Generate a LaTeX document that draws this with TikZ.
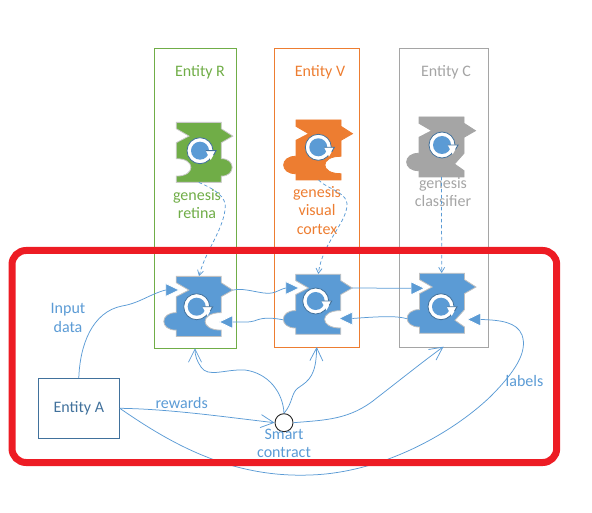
\documentclass[tikz,border=0pt]{standalone}
\usepackage{fontspec}
\setmainfont{Carlito}
\usetikzlibrary{positioning,arrows.meta}
\definecolor{mblue}{HTML}{5B9BD5}
\definecolor{mdark}{HTML}{41719C}
\definecolor{mgreen}{HTML}{70AD47}
\definecolor{morange}{HTML}{ED7D31}
\definecolor{mgray}{HTML}{A5A5A5}
\definecolor{mred}{HTML}{ED1C24}
\newcommand{\rbump}{.. controls (37,6) and (37,24) .. (22.5,23.7)}
\newcommand{\rbite}{.. controls (1,6) and (1,24) .. (22.5,23.7)}
\newcommand{\rchev}{-- (13,17) -- (22.5,23.7)}
\newcommand{\lbump}{.. controls (-39,24) and (-39,6) .. (-22.5,6.3)}
\newcommand{\lbite}{.. controls (-3,24) and (-3,6) .. (-22.5,6.3)}
\tikzset{
  x=1pt,y=-1pt,
  flow/.style={draw=mblue,line width=0.75pt},
  pull/.style={flow,-{Straight Barb[length=13pt,width=13pt]}},
  dash line/.style={flow,dash pattern=on 3.5pt off 2.5pt,-{Straight Barb[length=5pt,width=6pt]}},
  entbox/.style={draw=#1,line width=1pt,fill=none},
  lab/.style={text=#1,font=\fontsize{16}{18.5}\selectfont,align=center,inner sep=0pt},
  pics/module/.style n args={4}{code={
    \draw[fill=#1,draw=#2,line width=0.8pt] (-22.5,-30) -- (22.5,-30) -- (22.5,-23.7)
      -- (34,-16.3) -- (22.5,-9.7) -- (22.5,6.3) #3 -- (22.5,30) -- (-22.5,30)
      -- (-22.5,23.7) #4 -- (-22.5,-9.7) -- (-9.8,-16.3) -- (-22.5,-23.7) -- cycle;
    \coordinate (-top) at (0,-30);
    \coordinate (-bot) at (0,30);
    \coordinate (-tip) at (34,-16.3);
    \coordinate (-side) at (-35,15.5);
  }},
  pics/ringmark/.style={code={
    \draw[fill=white,draw=mdark,line width=0.8pt] (0,0) circle[radius=13];
    \fill[mblue] (0,0) circle[radius=9];
    \fill[white] (5.7,0) -- (16,0) -- (10.7,9.3) -- cycle;
    \draw[mdark,line width=0.9pt] (5.7,0) -- (16,0) -- (13.5,4.5);
  }},
  pics/port/.style={code={
    \draw[fill=mblue,draw=white,line width=0.8pt] (0,-6.5) -- (13.5,0) -- (0,6.5) -- cycle;
  }}
}
\begin{document}
\begin{tikzpicture}
  \useasboundingbox (0,0) rectangle (592,513);

  % entity columns
  \draw[entbox=mgreen] (154,48.3) rectangle (236.7,348.3);
  \draw[entbox=morange] (274.3,48.3) rectangle (359.7,347.3);
  \draw[entbox=mgray] (399.3,48.3) rectangle (488.7,347.3);
  \node[lab=mgreen] (nameR) at (200,72) {Entity R};
  \node[lab=morange] (nameV) at (320,72) {Entity V};
  \node[lab=mgray] (nameC) at (446,72) {Entity C};

  % genesis modules
  \pic (genR) at (198.8,152.4) {module={mgreen}{mgray!60}{\rbump}{\lbite}};
  \pic at (200,150.7) {ringmark};
  \pic (genV) at (318.5,150) {module={morange}{morange}{\rbite}{\lbump}};
  \pic at (318.3,147.3) {ringmark};
  \pic (genC) at (441.5,147) {module={mgray}{mgray}{\rchev}{\lbump}};
  \pic at (442,145) {ringmark};
  \node[lab=mgreen] (txtR) at (197,204) {genesis\\retina};
  \node[lab=morange] (txtV) at (317,210.5) {genesis\\visual\\cortex};
  \node[lab=mgray] (txtC) at (443,192) {genesis\\classifier};

  % worker modules
  \pic (modR) at (198.7,306.4) {module={mblue}{mgray!70}{\rbite}{\lbump}};
  \pic at (196.7,306.7) {ringmark};
  \pic (modV) at (318.2,304.3) {module={mblue}{mgray!70}{\rbite}{\lbump}};
  \pic at (315.7,301) {ringmark};
  \pic (modC) at (442,303.3) {module={mblue}{mgray!70}{\rchev}{\lbump}};
  \pic at (441,306.7) {ringmark};

  \coordinate (inR) at (165.7,290);
  \coordinate (inV) at (285.7,288);
  \coordinate (inC) at (411,288.3);
  \coordinate (backR) at (232.7,322);
  \coordinate (backV) at (352.3,318.5);
  \coordinate (backC) at (480.7,319.5);
  \coordinate (underR) at (195,348.3);
  \coordinate (underV) at (316.7,347);
  \coordinate (underC) at (443.5,346.7);
  \pic at (inR) {port};
  \pic at (inV) {port};
  \pic at (inC) {port};
  \pic[rotate=180] at (backR) {port};
  \pic[rotate=180] at (backV) {port};
  \pic[rotate=180] at (backC) {port};

  \node[draw=mdark,line width=1pt,minimum width=81pt,minimum height=60pt,inner sep=0pt,
    text=mdark,font=\fontsize{16}{18}\selectfont] (entA) at (78.8,408.3) {Entity A};
  \node[circle,draw=black!85,fill=white,line width=0.9pt,minimum size=18pt,inner sep=0pt] (smart) at (284,422.7) {};

  % connectors
  \draw[flow] (entA.north) .. controls (80,345) and (92,312) .. (122,306)
    .. controls (140,303) and (150,294) .. (inR);
  \draw[flow] (modR-tip) .. controls (245,287) and (262,295) .. (272,293)
    .. controls (277,292) and (281,289) .. (inV);
  \draw[flow] (modV-tip) -- (inC);
  \draw[flow] (modC-side) .. controls (398,316) and (385,316) .. (backV);
  \draw[flow] (modV-side) .. controls (268,317) and (262,318) .. (254,321)
    .. controls (250,322.5) and (240,322) .. (backR);
  \draw[flow] (entA.east) .. controls (170,443) and (230,478) .. (310,475)
    .. controls (380,473) and (450,435) .. (490,397)
    .. controls (515,372) and (528,352) .. (522,335)
    .. controls (517,322) and (500,320) .. (backC);
  \draw[pull] (entA.east) .. controls (170,409) and (225,417) .. (smart.west);
  \draw[pull] (smart.north) .. controls (283,392) and (268,373) .. (245,370)
    .. controls (225,369) and (208,378) .. (201,367)
    .. controls (197,361) and (195,356) .. (underR);
  \draw[pull] (smart.north) .. controls (293,403) and (291,393) .. (298,388)
    .. controls (310,380) and (316,375) .. (underV);
  \draw[pull] (smart.east) .. controls (325,420) and (350,420) .. (376.7,398)
    .. controls (400,380) and (425,360) .. (underC);
  \draw[dash line] (genR-bot) .. controls (212,188) and (228,196) .. (225,210)
    .. controls (222,232) and (206,250) .. (199,276);
  \draw[dash line] (genV-bot) .. controls (328,190) and (350,192) .. (346.7,208)
    .. controls (344,225) and (322,245) .. (318.3,274);
  \draw[dash line] (genC-bot) -- (441.7,273);

  \node[lab=mblue] (inputlab) at (68,318) {Input\\data};
  \node[lab=mblue] (rewlab) at (181.7,402.7) {rewards};
  \node[lab=mblue] (smartlab) at (284,443.5) {Smart\\contract};
  \node[lab=mblue] (labellab) at (524.5,380.7) {labels};

  % highlight
  \draw[mred,line width=7pt,rounded corners=14pt] (12,250.5) rectangle (556.7,462.5);
\end{tikzpicture}
\end{document}
